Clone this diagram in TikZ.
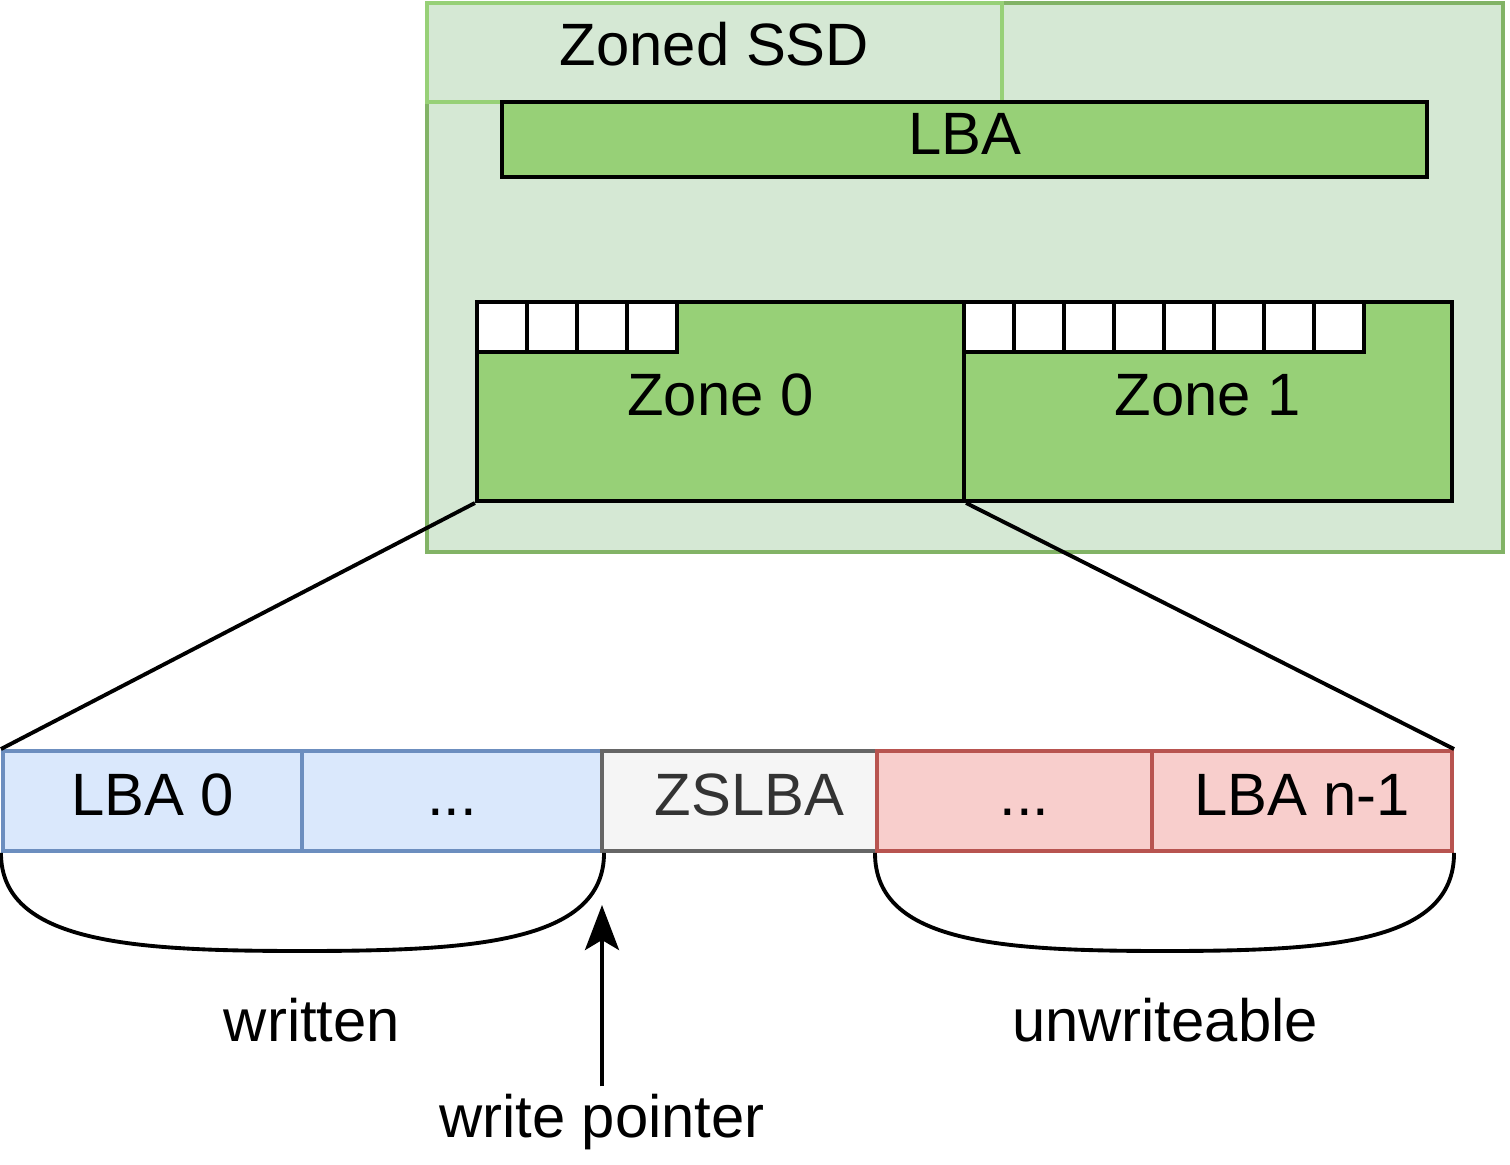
\documentclass[tikz,border=0pt]{standalone}
\usepackage{fontspec}
\setmainfont{Liberation Sans}
\usepackage{xcolor}
\usetikzlibrary{arrows.meta, positioning}

\definecolor{ssdfill}{HTML}{D5E8D4}
\definecolor{ssdline}{HTML}{82B366}
\definecolor{titleline}{HTML}{97D077}
\definecolor{zonefill}{HTML}{97D077}
\definecolor{bluefill}{HTML}{DAE8FC}
\definecolor{blueline}{HTML}{6C8EBF}
\definecolor{greyfill}{HTML}{F5F5F5}
\definecolor{greyline}{HTML}{666666}
\definecolor{greytext}{HTML}{333333}
\definecolor{redfill}{HTML}{F8CECC}
\definecolor{redline}{HTML}{B85450}

\tikzset{
    txt/.style={font=\fontsize{17}{20}\selectfont},
    box/.style={txt, draw, line width=1.1pt, inner sep=0pt, text height=0.43cm, text depth=0.15cm},
    zonebox/.style={box, fill=zonefill, minimum width=4.87cm, minimum height=1.99cm},
    cell/.style={draw, line width=1.1pt, inner sep=0pt, fill=white, minimum size=0.5cm},
    lbacell/.style={box, minimum height=1cm},
    blk/.style={line width=1.1pt}
}

\begin{document}
\begin{tikzpicture}[x=0.01cm, y=-0.01cm]
    \useasboundingbox (0,0) rectangle (1510,1165);

    % Zoned SSD
    \node[box, draw=ssdline, fill=ssdfill, minimum width=10.76cm, minimum height=5.49cm] (ssd) at (965,277.5) {};
    \node[box, draw=titleline, fill=ssdfill, minimum width=5.75cm, minimum height=0.99cm, text depth=0.17cm] (ssdtitle) at (714.5,52.5) {Zoned SSD};

    % LBA
    \node[box, fill=zonefill, minimum width=9.25cm, minimum height=0.75cm, text depth=0.12cm] (lba) at (964.5,139.5) {LBA};

    % Zones
    \node[zonebox] (zone0) at (720.5,401.5) {Zone 0};
    \node[zonebox] (zone1) at (1208,401.5) {Zone 1};
    \foreach \i in {0,...,3}
        \node[cell] (zacell\i) at (502+50*\i,327) {};
    \foreach \i in {0,...,7}
        \node[cell] (zbcell\i) at (989+50*\i,327) {};

    % LBAs of zone 0
    \node[lbacell, draw=blueline, fill=bluefill, minimum width=2.99cm] (lba0) at (152.5,801) {LBA 0};
    \node[lbacell, draw=blueline, fill=bluefill, minimum width=3cm] (dotsa) at (452,801) {...};
    \node[lbacell, draw=greyline, fill=greyfill, text=greytext, minimum width=2.75cm] (zslba) at (739.5,801) {\hspace*{0.2cm}ZSLBA};
    \node[lbacell, draw=redline, fill=redfill, minimum width=2.75cm] (dotsb) at (1014.5,801) {\hspace*{0.2cm}...};
    \node[lbacell, draw=redline, fill=redfill, minimum width=3cm] (lbaN) at (1302,801) {LBA n-1};

    % zoom lines
    \draw[blk] (zone0.south west) -- (lba0.north west);
    \draw[blk] (zone0.south east) -- (lbaN.north east);

    % brackets
    \coordinate (wbot) at (302,951);
    \coordinate (ubot) at (1165,951);
    \draw[blk] (lba0.south west) .. controls +(0,90) and +(-170,0) .. (wbot)
        .. controls +(170,0) and +(0,90) .. (dotsa.south east);
    \draw[blk] (dotsb.south west) .. controls +(0,90) and +(-165,0) .. (ubot)
        .. controls +(165,0) and +(0,90) .. (lbaN.south east);
    \node[txt] (written) at (312,1020) {written};
    \node[txt] (unwr) at (1165,1020) {unwriteable};

    % write pointer
    \coordinate (wptip) at (602,905);
    \node[txt, inner sep=2pt] (wp) at (602,1122) {write pointer};
    \draw[blk, -{Stealth[length=0.45cm, width=0.34cm, inset=0.1cm]}] (wp.north) -- (wptip);
\end{tikzpicture}
\end{document}
